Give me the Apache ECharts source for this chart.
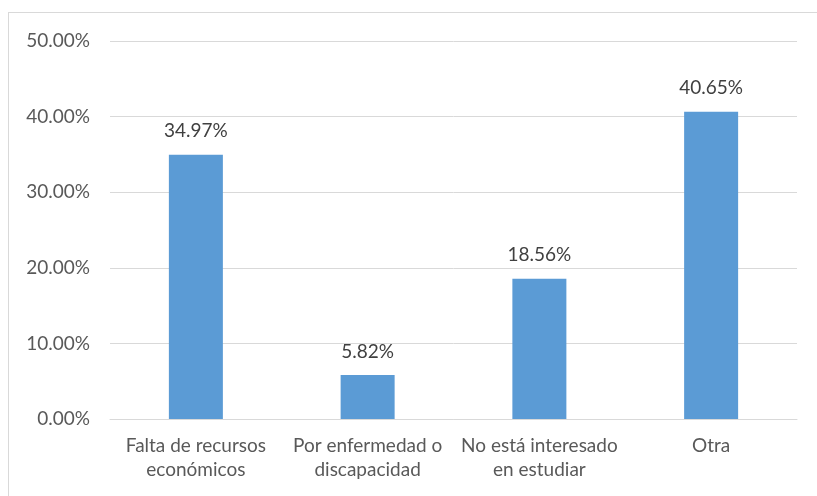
<!DOCTYPE html>
<html>
<head>
<meta charset="utf-8">
<script src="https://cdn.jsdelivr.net/npm/echarts@6/dist/echarts.min.js"></script>
<style>
	html, body { margin: 0; padding: 0; background: #fff; overflow: hidden; }
	#frame {
		position: absolute; left: 8px; top: 12px; width: 900px; height: 600px;
		border: 1px solid #d9d9d9; box-sizing: border-box;
	}
	#chart { position: absolute; left: 0; top: 0; width: 817px; height: 496px; }
</style>
</head>
<body>
<div id="frame"></div>
<div id="chart"></div>
<script>
	const categories = ['Falta de recursos\neconómicos', 'Por enfermedad o\ndiscapacidad', 'No está interesado\nen estudiar', 'Otra']
	const values = [34.97, 5.82, 18.56, 40.65]
	const yTicks = [0, 10, 20, 30, 40, 50]

	const myChart = echarts.init(document.getElementById('chart'))
	myChart.setOption({
		animation: false,
		textStyle: { fontFamily: 'Lato, "Open Sans", sans-serif' },
		grid: { left: 110, right: 20, top: 41, bottom: 77 },
		xAxis: {
			type: 'category',
			data: categories,
			axisTick: { show: false },
			axisLine: { lineStyle: { color: '#d9d9d9', width: 1 } },
			axisLabel: { color: '#595959', fontSize: 19, lineHeight: 24, margin: 15, interval: 0 }
		},
		yAxis: {
			type: 'value',
			min: yTicks[0],
			max: yTicks[yTicks.length - 1],
			interval: 10,
			axisLine: { show: false },
			axisTick: { show: false },
			splitLine: { lineStyle: { color: '#d9d9d9', width: 1 } },
			axisLabel: {
				color: '#595959', fontSize: 19, margin: 20,
				formatter: v => v.toFixed(2) + '%'
			}
		},
		series: [{
			type: 'bar',
			data: values,
			barWidth: 54,
			itemStyle: { color: '#5b9bd5' },
			label: {
				show: true, position: 'top', distance: 14,
				color: '#404040', fontSize: 19,
				formatter: p => p.value.toFixed(2) + '%'
			}
		}]
	})
</script>
</body>
</html>
